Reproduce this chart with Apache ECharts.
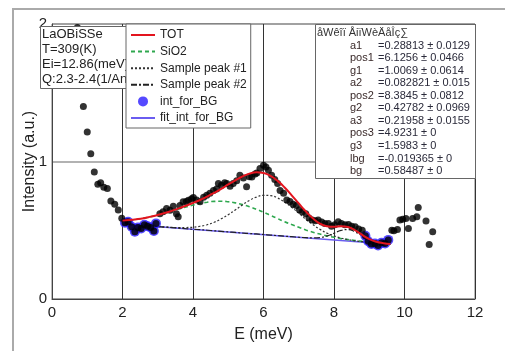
<!DOCTYPE html>
<html>
<head>
<meta charset="utf-8">
<script src="https://cdn.jsdelivr.net/npm/echarts@6/dist/echarts.min.js"></script>
<style>html,body{margin:0;padding:0;background:#fff;}#c{width:505px;height:351px;}</style>
</head>
<body>
<div id="c"></div>
<script>
// ---- data ----
const xTicks = [0, 2, 4, 6, 8, 10, 12];
const yTicks = [0, 1, 2];
const dataX = [0.72,0.89,1.00,1.10,1.20,1.30,1.38,1.47,1.57,1.67,1.78,1.88,1.98,
  2.07,2.16,2.26,2.35,2.44,2.53,2.62,2.71,2.80,2.89,2.95,
  3.06,3.15,3.25,3.35,3.44,3.53,3.58,3.63,3.72,3.81,3.87,3.96,4.01,4.10,4.20,4.30,4.39,4.48,4.58,4.67,4.72,4.81,4.90,4.96,
  5.05,5.14,5.24,5.33,5.43,5.52,5.60,5.67,5.76,5.81,5.90,6.00,6.07,6.14,6.23,6.32,6.40,6.47,6.57,6.66,6.75,6.84,6.93,
  7.02,7.10,7.20,7.29,7.38,7.47,7.55,7.65,7.74,7.84,7.93,8.02,8.12,8.21,8.31,8.41,8.50,8.60,8.70,8.80,
  8.89,8.97,9.06,9.16,9.25,9.35,9.45,9.54,9.64,9.70,9.80,9.87,9.95,10.04,10.11,10.23,10.35,10.39,10.61,10.70,10.80];
const dataY = [1.975,1.40,1.215,1.057,0.924,0.835,0.845,0.812,0.804,0.712,0.690,0.648,0.588,
  0.555,0.561,0.525,0.489,0.520,0.513,0.540,0.530,0.520,0.495,0.550,
  0.620,0.634,0.659,0.645,0.675,0.620,0.598,0.680,0.707,0.710,0.719,0.730,0.738,0.720,0.707,0.740,0.755,0.770,0.790,0.800,0.840,0.828,0.845,0.840,
  0.820,0.840,0.860,0.900,0.880,0.816,0.890,0.888,0.910,0.917,0.950,0.973,0.960,0.937,0.900,0.870,0.840,0.790,0.770,0.720,0.710,0.690,0.680,
  0.650,0.634,0.620,0.590,0.575,0.570,0.574,0.560,0.550,0.550,0.530,0.540,0.561,0.550,0.540,0.542,0.530,0.525,0.510,0.500,
  0.460,0.420,0.400,0.404,0.390,0.410,0.404,0.430,0.500,0.496,0.506,0.574,0.580,0.586,0.513,0.586,0.598,0.666,0.568,0.397,0.489];
const bgPtsX = [2.07,2.16,2.26,2.35,2.44,2.53,2.62,2.71,2.80,2.89,2.95,8.89,8.97,9.06,9.16,9.25,9.35,9.45,9.54];
const bgPtsY = [0.555,0.561,0.525,0.489,0.520,0.513,0.540,0.530,0.520,0.495,0.550,0.460,0.420,0.400,0.404,0.390,0.410,0.404,0.430];
const fitX = [2.0,2.2,2.4,2.6,2.8,3.0,3.2,3.4,3.6,3.8,4.0,4.2,4.4,4.6,4.8,5.0,5.2,5.4,5.6,5.8,6.0,6.2,6.4,6.6,6.8,7.0,7.2,7.4,7.6,7.8,8.0,8.2,8.4,8.6,8.8,9.0,9.2,9.4,9.6];
const totY = [0.570,0.574,0.580,0.588,0.599,0.611,0.625,0.641,0.659,0.678,0.698,0.720,0.745,0.772,0.801,0.833,0.863,0.891,0.912,0.921,0.916,0.895,0.859,0.811,0.754,0.695,0.637,0.587,0.549,0.529,0.525,0.530,0.524,0.500,0.466,0.436,0.416,0.406,0.400];
const sio2Y = [0.570,0.574,0.580,0.588,0.598,0.610,0.624,0.639,0.654,0.669,0.683,0.695,0.704,0.710,0.711,0.707,0.699,0.687,0.671,0.652,0.631,0.608,0.585,0.562,0.541,0.521,0.502,0.486,0.472,0.459,0.449,0.439,0.432,0.425,0.419,0.414,0.409,0.404,0.400];
const peak1Y = [0.546,0.542,0.538,0.535,0.531,0.527,0.524,0.521,0.519,0.520,0.522,0.529,0.540,0.558,0.583,0.613,0.648,0.684,0.717,0.741,0.754,0.752,0.735,0.705,0.667,0.624,0.580,0.541,0.507,0.479,0.459,0.443,0.432,0.423,0.417,0.412,0.407,0.403,0.399];
const peak2Y = [0.546,0.542,0.538,0.535,0.531,0.527,0.523,0.519,0.515,0.511,0.507,0.504,0.500,0.496,0.492,0.488,0.484,0.480,0.476,0.473,0.469,0.465,0.461,0.457,0.453,0.449,0.446,0.444,0.447,0.458,0.478,0.499,0.505,0.488,0.459,0.431,0.414,0.405,0.399];
const bgLineX = [2.0, 9.6];
const bgLineY = [0.546, 0.399];
const infoLines = ['LaOBiSSe', 'T=309(K)', 'Ei=12.86(meV)', 'Q:2.3-2.4(1/Angstrom)'];
const paramTitle = 'åWêîï ÅiïWèÄåÎç∑';
const paramNames = ['a1','pos1','g1','a2','pos2','g2','a3','pos3','g3','lbg','bg'];
const paramValues = ['=0.28813 ± 0.0129','=6.1256 ± 0.0466','=1.0069 ± 0.0614','=0.082821 ± 0.015','=8.3845 ± 0.0812','=0.42782 ± 0.0969','=0.21958 ± 0.0155','=4.9231 ± 0','=1.5983 ± 0','=-0.019365 ± 0','=0.58487 ± 0'];

const zip = (xs, ys) => xs.map((x, i) => [x, ys[i]]);
const FONT = 'Liberation Sans';

const graphics = [
  {type:'polyline', shape:{points:[[13,351],[13,9],[505,9]]}, style:{stroke:'#aaa', lineWidth:2, fill:null}, z:1, silent:true},
  {type:'rect', shape:{x:40.5, y:26.5, width:110, height:62}, style:{fill:'#fff', stroke:'#666', lineWidth:1}, z:100},
  {type:'rect', shape:{x:315.5, y:24.5, width:160, height:154}, style:{fill:'#fff', stroke:'#666', lineWidth:1}, z:100},
  {type:'text', x:317, y:33, style:{text:paramTitle, font:'11px ' + FONT, fill:'#333', verticalAlign:'middle'}, z:101}
];
infoLines.forEach((t, i) => graphics.push({type:'text', x:42, y:34.5 + i * 15, style:{text:t, font:'13px ' + FONT, fill:'#222', verticalAlign:'middle'}, z:101}));
paramNames.forEach((t, i) => {
  graphics.push({type:'text', x:350, y:45.5 + i * 12.56, style:{text:t, font:'11px ' + FONT, fill:'#3a2a2a', verticalAlign:'middle'}, z:101});
  graphics.push({type:'text', x:378, y:45.5 + i * 12.56, style:{text:paramValues[i], font:'11px ' + FONT, fill:'#2a2a3a', verticalAlign:'middle'}, z:101});
});

const noSym = {color:'rgba(0,0,0,0)', borderWidth:0, opacity:0};

const chart = echarts.init(document.getElementById('c'), null, {renderer:'canvas'});
chart.setOption({
  animation:false,
  backgroundColor:'#fff',
  textStyle:{fontFamily:FONT},
  grid:{left:52, right:30, top:24, bottom:52, show:true, borderColor:'#777', borderWidth:1, backgroundColor:'transparent'},
  xAxis:{type:'value', min:xTicks[0], max:xTicks[xTicks.length-1], interval:2,
    name:'E (meV)', nameLocation:'middle', nameGap:28, nameMoveOverlap:false,
    nameTextStyle:{fontSize:16, color:'#222', fontFamily:FONT},
    axisLine:{show:true, lineStyle:{color:'#444', width:1}}, axisTick:{show:false},
    axisLabel:{fontSize:15, color:'#222', margin:6, fontFamily:FONT},
    splitLine:{show:true, lineStyle:{color:'#333', width:1}}},
  yAxis:{type:'value', min:yTicks[0], max:yTicks[yTicks.length-1], interval:1,
    name:'Intensity (a.u.)', nameLocation:'middle', nameGap:14, nameMoveOverlap:false,
    nameTextStyle:{fontSize:16, color:'#222', fontFamily:FONT},
    axisLine:{show:true, lineStyle:{color:'#444', width:1}}, axisTick:{show:false},
    axisLabel:{fontSize:15, color:'#222', margin:5, fontFamily:FONT},
    splitLine:{show:true, lineStyle:{color:'#999', width:1.5}}},
  legend:{orient:'vertical', left:126, top:24, padding:[5,4,4,4], itemGap:4.6, itemWidth:24, itemHeight:10,
    backgroundColor:'#fff', borderColor:'#666', borderWidth:1, z:120,
    textStyle:{fontSize:12, color:'#222', fontFamily:FONT},
    data:[{name:'TOT', itemStyle:noSym},{name:'SiO2', itemStyle:noSym},{name:'Sample peak #1', itemStyle:noSym},
      {name:'Sample peak #2', itemStyle:noSym},{name:'int_for_BG', icon:'circle'},{name:'fit_int_for_BG', itemStyle:noSym}]},
  graphic:graphics,
  series:[
    {name:'fit_int_for_BG', type:'line', data:zip(bgLineX, bgLineY), symbol:'none', z:2,
      lineStyle:{color:'#6a5cf0', width:1.5}, itemStyle:{color:'#8a80ff'}},
    {name:'SiO2', type:'line', data:zip(fitX, sio2Y), symbol:'none', smooth:true, z:3,
      lineStyle:{color:'#2fa84f', width:1.6, type:[4,3]}, itemStyle:{color:'#2fa84f'}},
    {name:'Sample peak #1', type:'line', data:zip(fitX, peak1Y), symbol:'none', smooth:true, z:3,
      lineStyle:{color:'#333', width:1.2, type:[2,2]}, itemStyle:{color:'#333'}},
    {name:'Sample peak #2', type:'line', data:zip(fitX, peak2Y), symbol:'none', smooth:true, z:3,
      lineStyle:{color:'#222', width:1.2, type:[6,2,2,2]}, itemStyle:{color:'#222'}},
    {name:'int_for_BG', type:'scatter', data:zip(bgPtsX, bgPtsY), symbol:'circle', symbolSize:10, z:4,
      itemStyle:{color:'#2a1cff'}},
    {name:'data', type:'scatter', data:zip(dataX, dataY), symbol:'circle', symbolSize:7, z:5,
      itemStyle:{color:'#000'}},
    {name:'TOT', type:'line', data:zip(fitX, totY), symbol:'none', smooth:true, z:6,
      lineStyle:{color:'#e3141e', width:2}, itemStyle:{color:'#e3141e'}}
  ]
});
</script>
</body>
</html>
